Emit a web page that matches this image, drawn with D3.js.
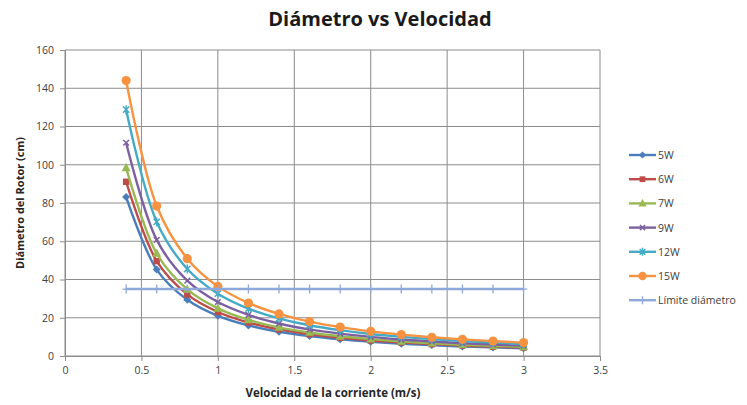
<!DOCTYPE html>
<html>
<head>
<meta charset="utf-8">
<script src="https://cdn.jsdelivr.net/npm/d3@7"></script>
<style>
  html, body { margin: 0; padding: 0; background: #fff; }
  svg { display: block; font-family: "Open Sans", "Liberation Sans", sans-serif; }
</style>
</head>
<body>
<svg id="chart" width="747" height="405"></svg>
<script>
// Velocidad de la corriente (m/s)
const velocidades = [0.4, 0.6, 0.8, 1.0, 1.2, 1.4, 1.6, 1.8, 2.0, 2.2, 2.4, 2.6, 2.8, 3.0];

// Diámetro del rotor (cm) para cada potencia
const d5W  = [83.1, 45.2, 29.4, 21.0, 16.0, 12.7, 10.4, 8.7, 7.4, 6.4, 5.7, 5.0, 4.5, 4.0];
const d6W  = [91.1, 49.6, 32.2, 23.0, 17.5, 13.9, 11.4, 9.5, 8.1, 7.1, 6.2, 5.5, 4.9, 4.4];
const d7W  = [98.4, 53.6, 34.8, 24.9, 18.9, 15.0, 12.3, 10.3, 8.8, 7.6, 6.7, 5.9, 5.3, 4.8];
const d9W  = [111.5, 60.7, 39.4, 28.2, 21.5, 17.0, 13.9, 11.7, 10.0, 8.6, 7.6, 6.7, 6.0, 5.4];
const d12W = [128.8, 70.1, 45.5, 32.6, 24.8, 19.7, 16.1, 13.5, 11.5, 10.0, 8.8, 7.8, 7.0, 6.3];
const d15W = [144.0, 78.4, 50.9, 36.4, 27.7, 22.0, 18.0, 15.1, 12.9, 11.2, 9.8, 8.7, 7.8, 7.0];
const limite = [35, 35, 35, 35, 35, 35, 35, 35, 35, 35, 35, 35, 35, 35];

const nombresSeries = ["5W", "6W", "7W", "9W", "12W", "15W", "Límite diámetro"];
const xTicks = [0, 0.5, 1, 1.5, 2, 2.5, 3, 3.5];
const xTickLabels = ["0", "0.5", "1", "1.5", "2", "2.5", "3", "3.5"];
const yTicks = [0, 20, 40, 60, 80, 100, 120, 140, 160];

const series = [
  { name: nombresSeries[0], values: d5W,   color: "#4A7EBB", marker: "diamond" },
  { name: nombresSeries[1], values: d6W,   color: "#BE4B48", marker: "square" },
  { name: nombresSeries[2], values: d7W,   color: "#98B954", marker: "triangle" },
  { name: nombresSeries[3], values: d9W,   color: "#7D60A0", marker: "x" },
  { name: nombresSeries[4], values: d12W,  color: "#46AAC5", marker: "star" },
  { name: nombresSeries[5], values: d15W,  color: "#F69240", marker: "circle" },
  { name: nombresSeries[6], values: limite, color: "#8FA8DA", marker: "plus" }
];

const svg = d3.select("#chart");
const plot = { left: 65, right: 600, top: 50, bottom: 356 };

const x = d3.scaleLinear().domain([0, 3.5]).range([plot.left, plot.right]);
const y = d3.scaleLinear().domain([0, 160]).range([plot.bottom, plot.top]);

// Title
svg.append("text")
  .attr("x", 380).attr("y", 26)
  .attr("text-anchor", "middle")
  .attr("font-size", 20).attr("font-weight", "bold")
  .attr("fill", "#1a1a1a")
  .text("Diámetro vs Velocidad");

// Gridlines
const grid = svg.append("g");
grid.selectAll(".gy").data(yTicks).join("line")
  .attr("x1", plot.left).attr("x2", plot.right)
  .attr("y1", d => y(d)).attr("y2", d => y(d))
  .attr("stroke", "#8c8c8c").attr("stroke-width", 1);
grid.selectAll(".gx").data(xTicks).join("line")
  .attr("x1", d => x(d)).attr("x2", d => x(d))
  .attr("y1", plot.top).attr("y2", plot.bottom)
  .attr("stroke", "#8c8c8c").attr("stroke-width", 1);

// Axes
const xAxis = d3.axisBottom(x).tickValues(xTicks)
  .tickFormat((d, i) => xTickLabels[i]).tickSize(5).tickPadding(6);
const yAxis = d3.axisLeft(y).tickValues(yTicks).tickSize(5).tickPadding(6);

const gx = svg.append("g").attr("transform", `translate(0,${plot.bottom})`).call(xAxis);
const gy = svg.append("g").attr("transform", `translate(${plot.left},0)`).call(yAxis);
[gx, gy].forEach(g => {
  g.selectAll("path.domain").attr("stroke", "#8c8c8c");
  g.selectAll(".tick line").attr("stroke", "#8c8c8c");
  g.selectAll(".tick text").attr("fill", "#404040").attr("font-size", 10.5)
    .attr("font-family", "'Open Sans', sans-serif");
});

// Axis titles
svg.append("text")
  .attr("x", 333).attr("y", 397)
  .attr("text-anchor", "middle")
  .attr("font-size", 11.5).attr("font-weight", "bold").attr("fill", "#262626")
  .text("Velocidad  de la corriente (m/s)");
svg.append("text")
  .attr("transform", `translate(24,${(plot.top + plot.bottom) / 2}) rotate(-90)`)
  .attr("text-anchor", "middle")
  .attr("font-size", 11).attr("font-weight", "bold").attr("fill", "#262626")
  .text("Diámetro del Rotor (cm)");

// Marker shapes
function drawMarker(g, type, color, size) {
  const s = size;
  switch (type) {
    case "diamond":
      g.append("path").attr("d", `M0,${-s}L${s},0L0,${s}L${-s},0Z`).attr("fill", color);
      break;
    case "square":
      g.append("rect").attr("x", -s * 0.8).attr("y", -s * 0.8)
        .attr("width", s * 1.6).attr("height", s * 1.6).attr("fill", color);
      break;
    case "triangle":
      g.append("path").attr("d", `M0,${-s * 1.1}L${s},${s * 0.75}L${-s},${s * 0.75}Z`).attr("fill", color);
      break;
    case "x":
      g.append("path").attr("d", `M${-s * 0.7},${-s * 0.7}L${s * 0.7},${s * 0.7}M${-s * 0.7},${s * 0.7}L${s * 0.7},${-s * 0.7}`)
        .attr("stroke", color).attr("stroke-width", 1.5);
      break;
    case "star":
      g.append("path").attr("d", `M${-s * 0.7},${-s * 0.7}L${s * 0.7},${s * 0.7}M${-s * 0.7},${s * 0.7}L${s * 0.7},${-s * 0.7}M0,${-s}L0,${s}`)
        .attr("stroke", color).attr("stroke-width", 1.5);
      break;
    case "circle":
      g.append("circle").attr("r", s).attr("fill", color);
      break;
    case "plus":
      g.append("path").attr("d", `M${-s * 0.8},0L${s * 0.8},0M0,${-s}L0,${s}`)
        .attr("stroke", color).attr("stroke-width", 1.3);
      break;
  }
}

const markerSize = { diamond: 4, square: 4, triangle: 4.5, x: 4, star: 4.5, circle: 4.6, plus: 4.5 };

const line = d3.line()
  .x((d, i) => x(velocidades[i]))
  .y(d => y(d))
  .curve(d3.curveCatmullRom.alpha(0.5));

const gSeries = svg.append("g");
series.forEach(s => {
  const g = gSeries.append("g");
  g.append("path")
    .attr("d", line(s.values))
    .attr("fill", "none")
    .attr("stroke", s.color)
    .attr("stroke-width", 2.4)
    .attr("stroke-linejoin", "round");
  s.values.forEach((v, i) => {
    const m = g.append("g").attr("transform", `translate(${x(velocidades[i])},${y(v)})`);
    drawMarker(m, s.marker, s.color, markerSize[s.marker]);
  });
});

// Legend
const legend = svg.append("g");
series.forEach((s, i) => {
  const ly = 155 + i * 24.2;
  const g = legend.append("g").attr("transform", `translate(0,${ly})`);
  g.append("line").attr("x1", 629).attr("x2", 656)
    .attr("y1", 0).attr("y2", 0)
    .attr("stroke", s.color).attr("stroke-width", 2.4);
  const m = g.append("g").attr("transform", "translate(642.5,0)");
  drawMarker(m, s.marker, s.color, markerSize[s.marker] * 0.9);
  g.append("text").attr("x", 658).attr("y", 4)
    .attr("font-size", 10.5).attr("fill", "#404040")
    .text(s.name);
});
</script>
</body>
</html>
